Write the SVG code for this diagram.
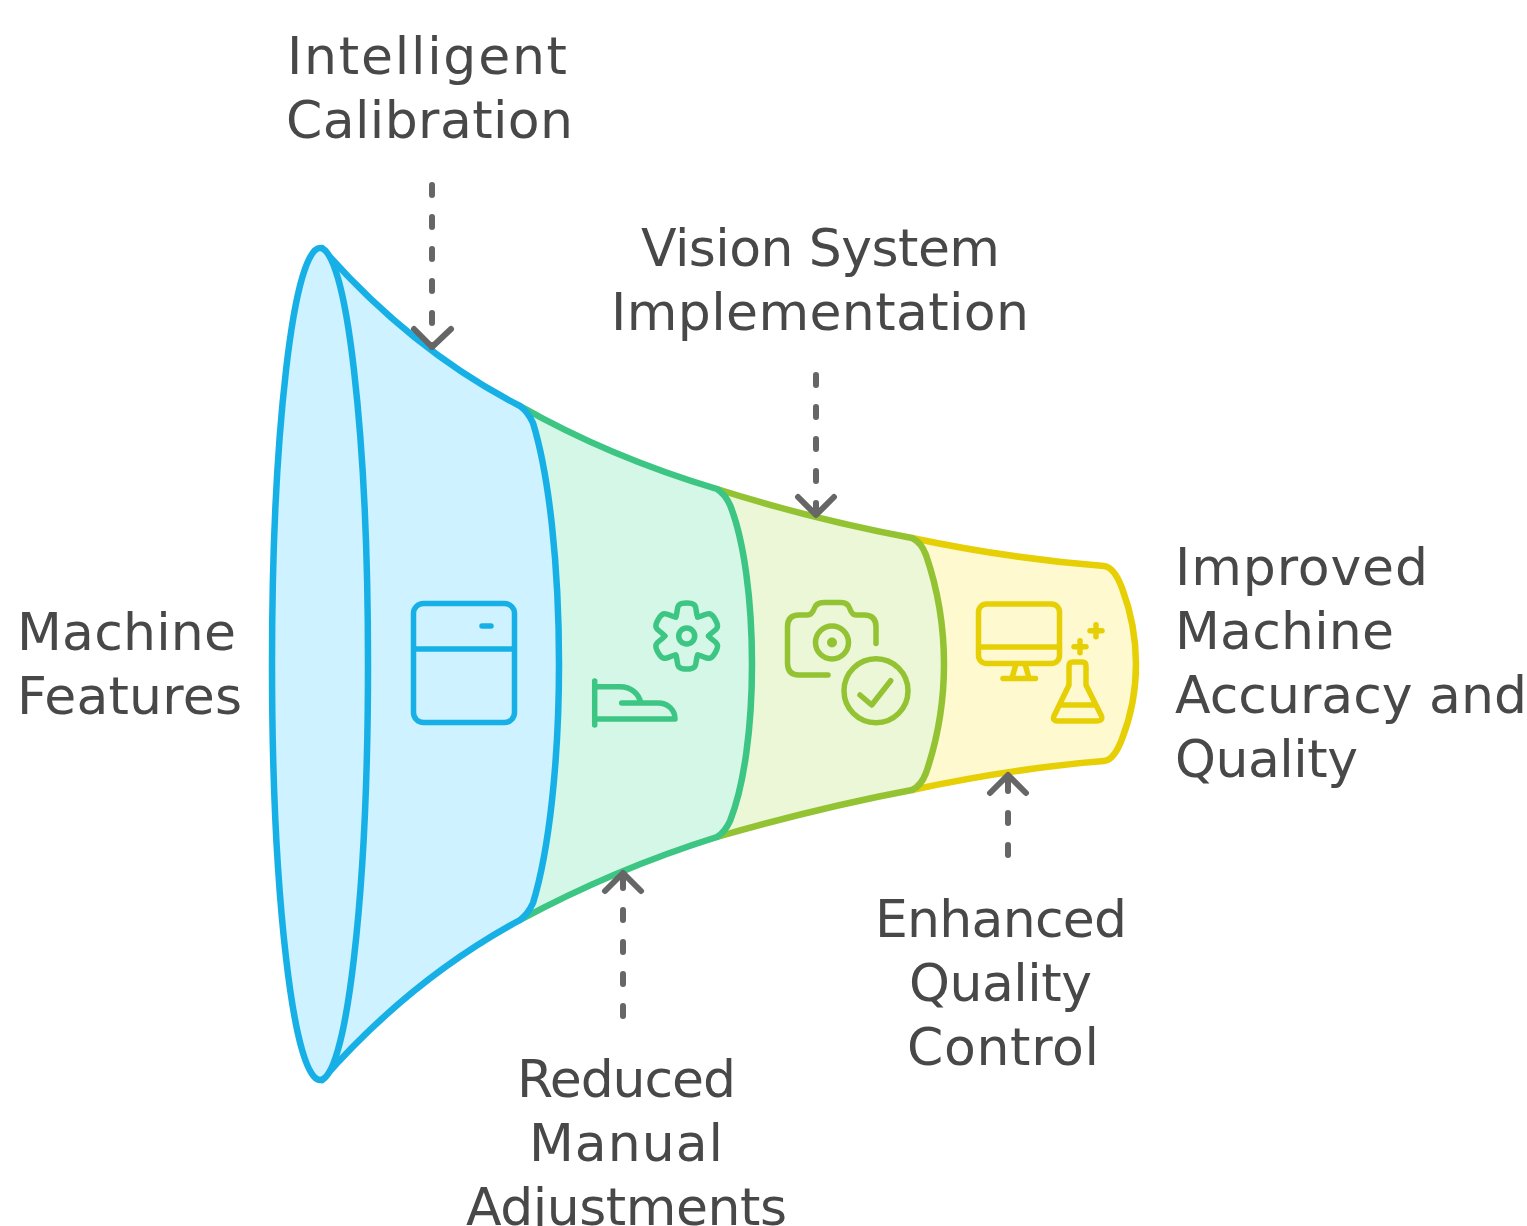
<svg xmlns="http://www.w3.org/2000/svg" width="1527" height="1226" viewBox="0 0 1527 1226">
<style>
.t{font-family:"DejaVu Sans","Liberation Sans",sans-serif;font-size:52px;fill:#484848}
.seg{stroke-width:6.500;stroke-linejoin:round;stroke-linecap:round}
.ic{fill:none;stroke-width:5.500;stroke-linecap:round;stroke-linejoin:round}
.blue{stroke:#17B0E6}.green{stroke:#3CC583}.lime{stroke:#93C332}.yellow{stroke:#E6CF04}
.dash{fill:none;stroke:#666;stroke-width:6;stroke-linecap:round;stroke-dasharray:10 22}
.head{fill:none;stroke:#666;stroke-width:6;stroke-linecap:round;stroke-linejoin:round}
</style>
<defs><path id="lobe" d="M675.700 617 C679 610 674 603 686.700 603 C699.400 603 694.400 610 697.700 617"/></defs>
<rect width="1527" height="1226" fill="#fff"/>
<g id="stage-yellow">
<path class="seg yellow" fill="#FEF9CF" d="M912 538 C978 552 1040 561 1104 566 Q1114 567 1122 588 C1131 612 1136 640 1136 664 C1136 688 1131 716 1122 739 Q1114 760 1104 761 C1040 766 978 776 912 790 Z"/>
<g class="ic yellow">
<rect x="978.500" y="604" width="81" height="59.500" rx="8"/>
<path d="M979 647H1059M1016 664L1012 678M1025 664L1029 678M1003 678.500H1035.500"/>
<path d="M1073 662H1082Q1086 662 1086 666V685L1101.500 716Q1103 721 1097 721H1058Q1052 721 1054 716L1069 685V666Q1069 662 1073 662ZM1062 705H1093"/>
<path d="M1074 646.700H1086M1080 640.700V652.700M1090 630.700H1102M1096 624.700V636.700"/>
</g>
</g>
<g id="stage-lime">
<path class="seg lime" fill="#EBF7D6" d="M717 489 C783 510 848 526 912 538 Q921 542 926 555 C938 590 944 625 944 664 C944 703 938 738 926 773 Q921 786 912 790 C848 802 783 818 717 837 Z"/>
<g class="ic lime">
<path d="M876 643.500V627Q876 615 864 615H856Q852 615 850 609Q848 602.500 841 602.500H824Q816 602.500 814 609Q812 615 807 615H799Q787.500 615 787.500 627V663Q787.500 675 799 675H828"/>
<circle cx="832" cy="642.500" r="16.500"/>
<circle cx="832" cy="642.500" r="5" fill="#93C332" stroke="none"/>
<circle cx="876" cy="690.700" r="32"/>
<path d="M860 695L871.700 705L890.700 680.700"/>
</g>
</g>
<g id="stage-green">
<path class="seg green" fill="#D4F7E7" d="M520 406 C585 443 650 469 717 489 Q725 494 730 505 C744 540 752 600 752 664 C752 728 744 786 730 821 Q725 832 717 837 C650 858 585 885 520 920 Z"/>
<g class="ic green">
<use href="#lobe"/><use href="#lobe" transform="rotate(60 686.700 636)"/><use href="#lobe" transform="rotate(120 686.700 636)"/><use href="#lobe" transform="rotate(180 686.700 636)"/><use href="#lobe" transform="rotate(240 686.700 636)"/><use href="#lobe" transform="rotate(300 686.700 636)"/>
<circle cx="686.700" cy="636" r="8"/>
<path d="M594.700 681V725M595 719H675C675 710 668 703 658 703H621.700M595 686.700H620C631 686.700 639 694 640.700 703"/>
</g>
</g>
<g id="stage-blue">
<path class="seg blue" fill="#CEF2FF" d="M322 248 C385 320 450 370 520 406 Q528 412 533 423 C549 475 559 565 559 664 C559 761 549 851 533 903 Q528 914 520 920 C450 958 385 1008 322 1080 Z"/>
<ellipse class="seg blue" fill="#CEF2FF" cx="320" cy="664" rx="48" ry="416"/>
<g class="ic blue">
<rect x="413.500" y="603.500" width="101" height="119" rx="10"/>
<path d="M414 649H514M482 626H491"/>
</g>
</g>
<g id="connectors">
<path class="dash" d="M432 185V347"/><path class="head" d="M414 329L432 347L451 329"/>
<path class="dash" d="M816 375V513"/><path class="head" d="M798 497L816 515L834 497"/>
<path class="dash" d="M623 1016V878"/><path class="head" d="M605 891L623 873L641 891"/>
<path class="dash" d="M1008 855V778"/><path class="head" d="M990 793L1008 775L1026 793"/>
</g>
<g id="label-intelligent"><text class="t" x="287" y="74" textLength="280">Intelligent</text><text class="t" x="286" y="138" textLength="287">Calibration</text></g>
<g id="label-vision"><text class="t" x="641" y="266" textLength="359">Vision System</text><text class="t" x="611" y="330" textLength="418">Implementation</text></g>
<g id="label-machine"><text class="t" x="17" y="650" textLength="219">Machine</text><text class="t" x="17" y="714" textLength="225">Features</text></g>
<g id="label-improved"><text class="t" x="1175" y="585" textLength="253">Improved</text><text class="t" x="1175" y="649" textLength="219">Machine</text><text class="t" x="1175" y="713" textLength="352">Accuracy and</text><text class="t" x="1175" y="777" textLength="183">Quality</text></g>
<g id="label-enhanced"><text class="t" x="875" y="937" textLength="252">Enhanced</text><text class="t" x="909" y="1001" textLength="183">Quality</text><text class="t" x="907" y="1065" textLength="192">Control</text></g>
<g id="label-reduced"><text class="t" x="517" y="1097" textLength="219">Reduced</text><text class="t" x="529" y="1161" textLength="194">Manual</text><text class="t" x="466" y="1225" textLength="321">Adjustments</text></g>
</svg>
